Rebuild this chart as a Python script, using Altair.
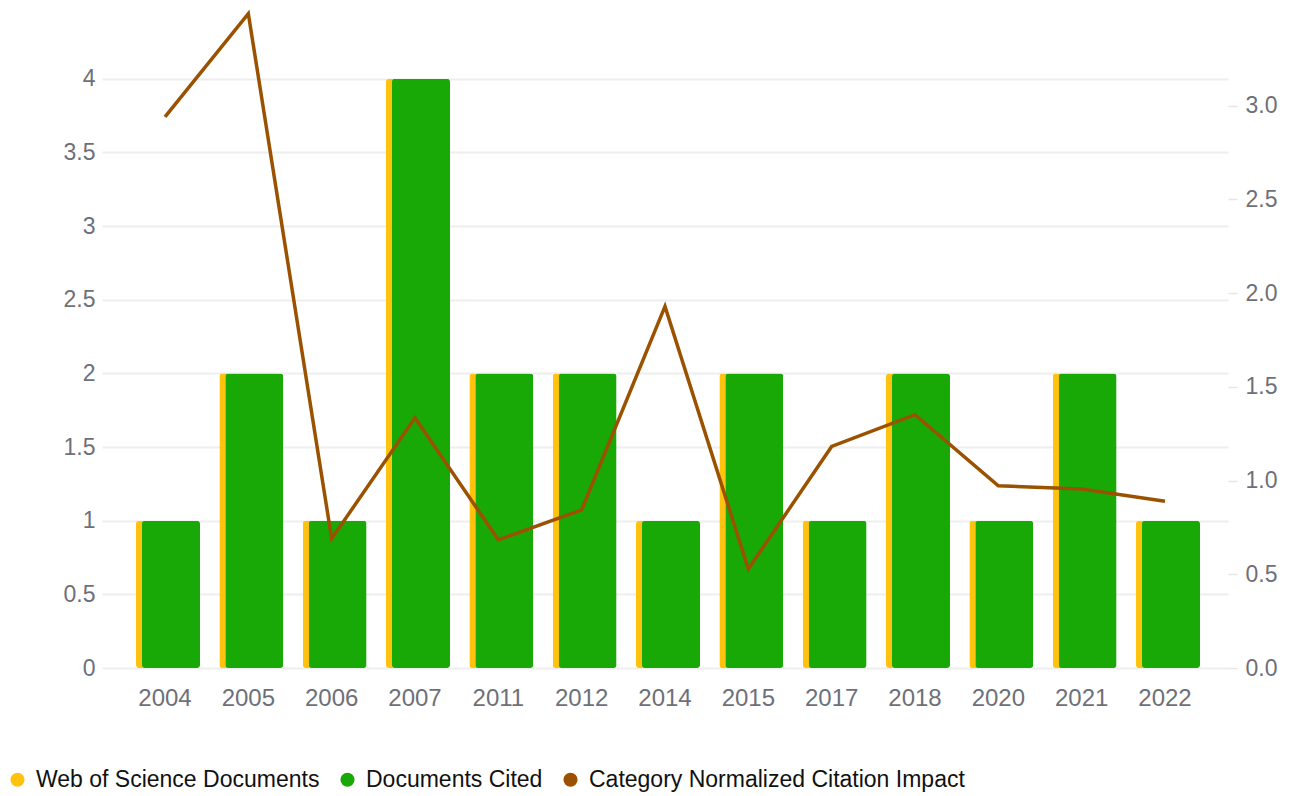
import altair as alt
import pandas as pd

years = ["2004", "2005", "2006", "2007", "2011", "2012", "2014",
         "2015", "2017", "2018", "2020", "2021", "2022"]
wos_documents = [1, 2, 1, 4, 2, 2, 1, 2, 1, 2, 1, 2, 1]
documents_cited = [1, 2, 1, 4, 2, 2, 1, 2, 1, 2, 1, 2, 1]
cnci = [2.94, 3.49, 0.69, 1.335, 0.684, 0.844, 1.929, 0.528,
        1.182, 1.351, 0.972, 0.955, 0.89]

series_names = ["Web of Science Documents", "Documents Cited",
                "Category Normalized Citation Impact"]
series_colors = ["#FFC20E", "#18A907", "#9A5200"]

bars_df = pd.DataFrame({
    "year": years * 2,
    "value": wos_documents + documents_cited,
    "series": [series_names[0]] * len(years) + [series_names[1]] * len(years),
})
line_df = pd.DataFrame({"year": years, "cnci": cnci})

label_color = "#6E7079"
font = "Liberation Sans"

x_axis = alt.Axis(labelAngle=0, labelFontSize=24, labelColor=label_color,
                  labelFont=font, ticks=False, domain=False, labelPadding=18,
                  grid=False)
x_scale = alt.Scale(paddingInner=0, paddingOuter=0.256)

x_enc = alt.X("year:N", sort=years, title=None, scale=x_scale, axis=x_axis)

y_left = alt.Y(
    "value:Q", title=None,
    scale=alt.Scale(domain=[0, 4.467], nice=False, zero=True),
    axis=alt.Axis(values=[0, 0.5, 1, 1.5, 2, 2.5, 3, 3.5, 4],
                  format="~g",
                  labelFontSize=23, labelColor=label_color, labelFont=font,
                  ticks=False, domain=False, labelPadding=7,
                  grid=True, gridColor="#EEEEEE", gridWidth=2),
)

color_enc = alt.Color(
    "series:N",
    scale=alt.Scale(domain=series_names, range=series_colors),
    legend=alt.Legend(
        title=None, orient="none", direction="horizontal",
        legendX=-96, legendY=758,
        symbolType="circle", symbolSize=200, symbolStrokeWidth=0,
        labelFontSize=23, labelFont=font, labelColor="#111111",
        labelOffset=7, columnPadding=16, labelLimit=0,
    ),
)

yellow = alt.Chart(bars_df).transform_filter(
    alt.datum.series == series_names[0]
).mark_bar(width=58, cornerRadius=3).encode(
    x=x_enc, y=y_left, color=color_enc
)

green = alt.Chart(bars_df).transform_filter(
    alt.datum.series == series_names[1]
).mark_bar(width=58, cornerRadius=3, xOffset=6).encode(
    x=x_enc, y=y_left, color=color_enc
)

bars = alt.layer(yellow, green)

line = alt.Chart(line_df).mark_line(
    strokeWidth=3.5, color=series_colors[2], clip=False
).encode(
    x=x_enc,
    y=alt.Y(
        "cnci:Q", title=None,
        scale=alt.Scale(domain=[0, 3.51], nice=False, zero=True),
        axis=alt.Axis(orient="right",
                      values=[0, 0.5, 1, 1.5, 2, 2.5, 3],
                      format=".1f", labelFontSize=23,
                      labelColor=label_color, labelFont=font,
                      ticks=True, tickSize=9, tickColor="#E6E6E6",
                      tickWidth=1.5, domain=False, labelPadding=8,
                      grid=False),
    ),
)

chart = alt.layer(bars, line).resolve_scale(
    y="independent"
).properties(
    width=1126,
    height=658,
    background="white",
    autosize=alt.AutoSizeParams(type="none"),
    padding={"left": 94, "top": 2, "right": 55, "bottom": 126},
).configure_view(
    stroke=None
)

chart.save("out.html", embed_options={"renderer": "svg", "actions": False})
